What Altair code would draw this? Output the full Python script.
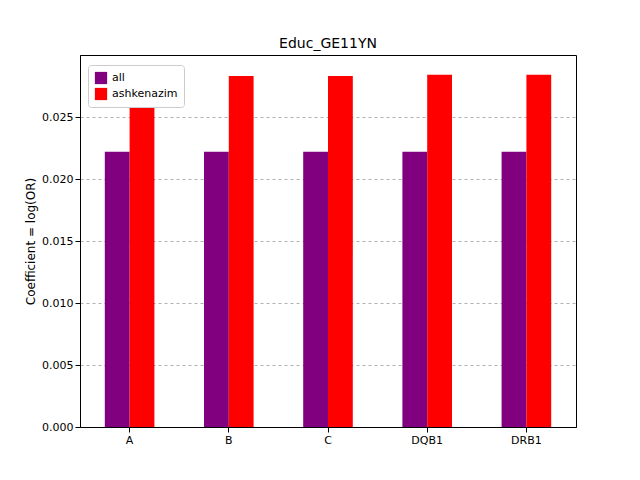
import altair as alt
import pandas as pd

genes = ["A", "B", "C", "DQB1", "DRB1"]
all_vals = [0.0222, 0.0222, 0.0222, 0.0222, 0.0222]
ashk_vals = [0.0283, 0.0283, 0.0283, 0.0284, 0.0284]
groups = ["all", "ashkenazim"]

rows = []
for g, a, b in zip(genes, all_vals, ashk_vals):
    rows.append({"gene": g, "group": "all", "value": a})
    rows.append({"gene": g, "group": "ashkenazim", "value": b})
df = pd.DataFrame(rows)

chart = alt.Chart(df).mark_bar().encode(
    x=alt.X("gene:N", sort=genes, title=None,
            scale=alt.Scale(paddingInner=0.5, paddingOuter=0.25),
            axis=alt.Axis(labelAngle=0, grid=False, labelFont="DejaVu Sans", labelFontSize=11,
                          labelColor="black", domainColor="black", tickColor="black")),
    xOffset=alt.XOffset("group:N", sort=groups, scale=alt.Scale(paddingInner=0, paddingOuter=0)),
    y=alt.Y("value:Q", title="Coefficient = log(OR)",
            scale=alt.Scale(domain=[0, 0.030], nice=False),
            axis=alt.Axis(values=[0, 0.005, 0.01, 0.015, 0.02, 0.025], format=".3f",
                          grid=True, gridDash=[3, 3], gridColor="#b0b0b0",
                          labelFont="DejaVu Sans", labelFontSize=11, labelColor="black",
                          titleFont="DejaVu Sans", titleFontSize=12, titleFontWeight="normal",
                          titleColor="black", domainColor="black", tickColor="black")),
    color=alt.Color("group:N", sort=groups,
                    scale=alt.Scale(domain=groups, range=["purple", "red"]),
                    legend=alt.Legend(title=None, orient="none", legendX=8, legendY=10,
                                      symbolType="square", symbolSize=150,
                                      labelFont="DejaVu Sans", labelFontSize=11,
                                      strokeColor="#cccccc", fillColor="white", padding=6,
                                      cornerRadius=3)),
).properties(
    width=496, height=372,
    title=alt.Title("Educ_GE11YN", font="DejaVu Sans", fontSize=14, fontWeight="normal"),
    autosize=alt.AutoSizeParams(type="none"),
    padding={"left": 72, "top": 47, "right": 56, "bottom": 45},
).configure_view(stroke="black", strokeWidth=1).configure_axis(gridOpacity=1)

chart.save("out.html", embed_options={"renderer": "svg", "actions": False})
